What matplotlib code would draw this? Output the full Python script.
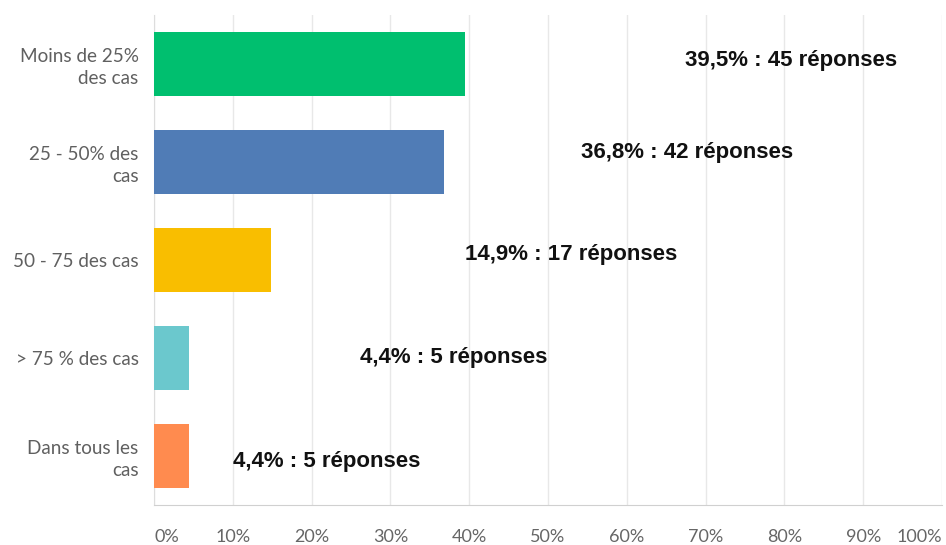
import matplotlib
matplotlib.use("Agg")
import matplotlib.pyplot as plt

categories = ["Moins de 25%\ndes cas", "25 - 50% des\ncas", "50 - 75 des cas",
              "> 75 % des cas", "Dans tous les\ncas"]
percentages = [39.5, 36.8, 14.9, 4.4, 4.4]
responses = [45, 42, 17, 5, 5]
value_labels = ["39,5% : 45 réponses", "36,8% : 42 réponses", "14,9% : 17 réponses",
                "4,4% : 5 réponses", "4,4% : 5 réponses"]
colors = ["#00BF6F", "#507CB6", "#F9BE00", "#6BC8CD", "#FF8B4F"]
x_ticks = [0, 10, 20, 30, 40, 50, 60, 70, 80, 90, 100]
x_tick_labels = [f"{t}%" for t in x_ticks]

# annotation positions (layout, in data units)
label_x = [67.4, 54.2, 39.5, 26.1, 10.0]
label_dy = [-0.04, -0.10, -0.06, -0.01, 0.06]

W, H = 946, 545
fig = plt.figure(figsize=(W / 100, H / 100), dpi=100)
ax = fig.add_axes([154 / W, (H - 505) / H, (942 - 154) / W, (505 - 15) / H])

y = list(range(len(categories)))
ax.barh(y, percentages, height=0.66, color=colors, zorder=3)
ax.set_ylim(len(categories) - 0.5, -0.5)
ax.set_xlim(0, 100)

ax.set_xticks(x_ticks)
ax.set_xticklabels(x_tick_labels, family="Lato", fontsize=13, color="#666666")
lbls = ax.get_xticklabels()
lbls[0].set_horizontalalignment("left")
lbls[-1].set_horizontalalignment("right")
ax.tick_params(axis="x", length=0, pad=17)

ax.set_yticks(y)
ax.set_yticklabels(categories, family="Lato", fontsize=13.6, color="#606060",
                   linespacing=1.35, multialignment="right")
ax.tick_params(axis="y", length=0, pad=11)

ax.grid(axis="x", color="#e8e8e8", linewidth=1, zorder=0)
for s in ["top", "right"]:
    ax.spines[s].set_visible(False)
ax.spines["left"].set_color("#dddddd")
ax.spines["bottom"].set_color("#d0d0d0")

for yi, lx, dy, txt in zip(y, label_x, label_dy, value_labels):
    ax.text(lx, yi + dy, txt, family="Liberation Sans", fontweight="bold",
            fontsize=16, color="#111111", va="center", ha="left", zorder=4)

fig.savefig("out.png", dpi=100)
